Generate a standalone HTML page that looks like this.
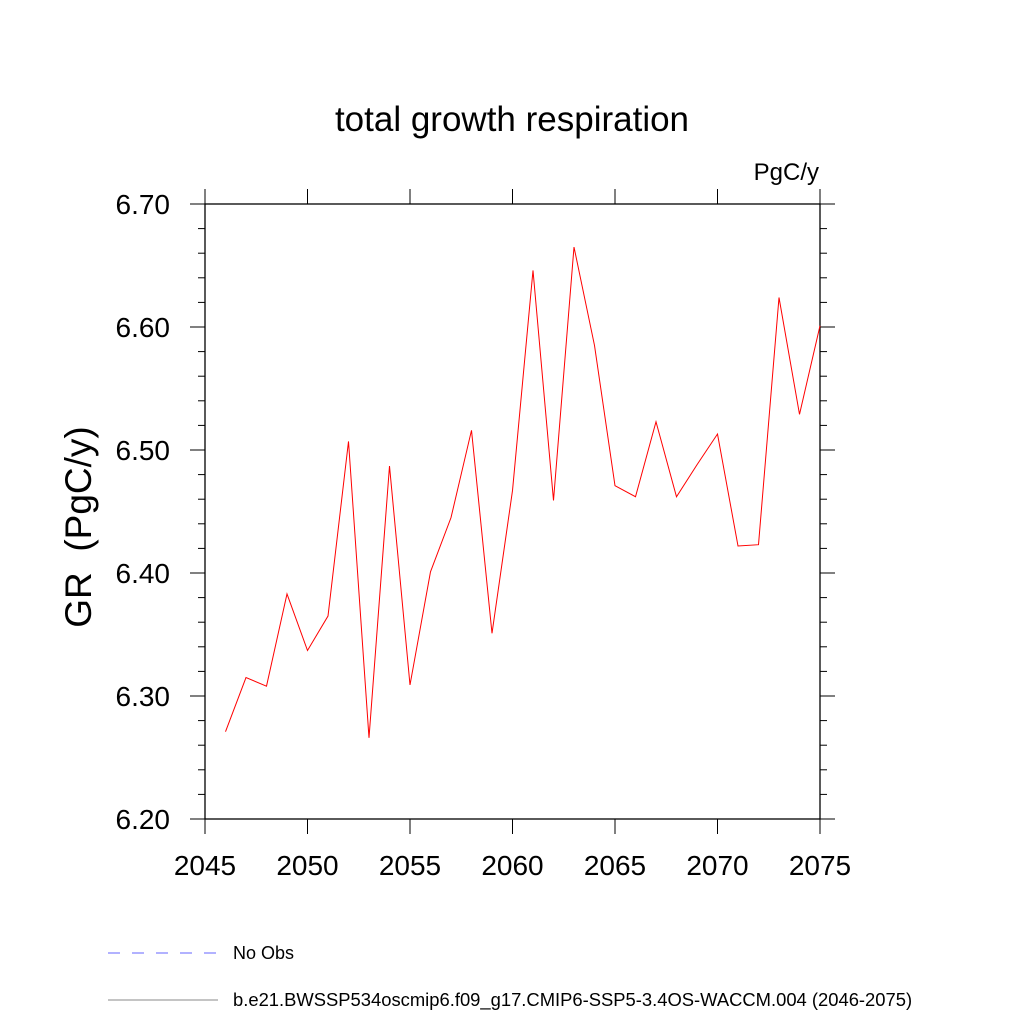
<!DOCTYPE html>
<html><head><meta charset="utf-8"><style>body{margin:0;background:#fff}svg{display:block;font-family:"Liberation Sans",sans-serif}</style></head>
<body>
<svg id="c" width="1024" height="1024">
<text x="512" y="131" font-size="35" text-anchor="middle">total growth respiration</text>
<text x="819" y="180" font-size="24" text-anchor="end">PgC/y</text>
<text transform="translate(91,527) rotate(-90)" font-size="37" text-anchor="middle" style="white-space:pre">GR  (PgC/y)</text>
<g id="ax"></g>
<g>
<line x1="108" y1="953" x2="218" y2="953" stroke="#66f" stroke-width="1" stroke-dasharray="12,12"/>
<text x="233" y="959" font-size="18">No Obs</text>
<line x1="108" y1="1000" x2="218" y2="1000" stroke="#888" stroke-width="1"/>
<text x="233" y="1006" font-size="18.4">b.e21.BWSSP534oscmip6.f09_g17.CMIP6-SSP5-3.4OS-WACCM.004 (2046-2075)</text>
</g>
</svg>
<script>
const years=[2046,2047,2048,2049,2050,2051,2052,2053,2054,2055,2056,2057,2058,2059,2060,2061,2062,2063,2064,2065,2066,2067,2068,2069,2070,2071,2072,2073,2074,2075];
const values=[6.271,6.315,6.308,6.383,6.337,6.365,6.507,6.266,6.487,6.309,6.401,6.445,6.516,6.351,6.467,6.646,6.459,6.665,6.585,6.471,6.462,6.523,6.462,6.488,6.513,6.422,6.423,6.624,6.529,6.601];
const xTicks=[2045,2050,2055,2060,2065,2070,2075];
const yTicks=[6.20,6.30,6.40,6.50,6.60,6.70];
const L=205,R=820,T=204,B=819;
const X=v=>L+(v-2045)/30*(R-L);
const Y=v=>B-(v-6.2)/0.5*(B-T);
const NS='http://www.w3.org/2000/svg';
const g=document.getElementById('ax');
function mk(t,a,p){const e=document.createElementNS(NS,t);for(const k in a)e.setAttribute(k,a[k]);(p||g).appendChild(e);return e;}
const frame=mk('rect',{x:L,y:T,width:R-L,height:B-T,fill:'none',stroke:'#000','stroke-width':1.3});


for(let v=6.2;v<=6.7001;v+=0.02){const y=Y(v);const maj=Math.abs(Math.round(v*10)-v*10)<1e-6;const len=maj?15:7;
mk('line',{x1:L-len,y1:y,x2:L,y2:y,stroke:'#000','stroke-width':1});
mk('line',{x1:R,y1:y,x2:R+len,y2:y,stroke:'#000','stroke-width':1});}
yTicks.forEach(v=>{const t=mk('text',{x:L-35,y:Y(v)+10,'font-size':28,'text-anchor':'end'});t.textContent=v.toFixed(2);

});
xTicks.forEach(v=>{const x=X(v);
mk('line',{x1:x,y1:B,x2:x,y2:B+15,stroke:'#000','stroke-width':1});
mk('line',{x1:x,y1:T-15,x2:x,y2:T,stroke:'#000','stroke-width':1});
const t=mk('text',{x:x,y:875,'font-size':28,'text-anchor':'middle'});t.textContent=v;

});
const line=mk('polyline',{points:years.map((y,i)=>X(y)+','+Y(values[i])).join(' '),fill:'none',stroke:'#f00','stroke-width':1});


</script>
</body></html>
